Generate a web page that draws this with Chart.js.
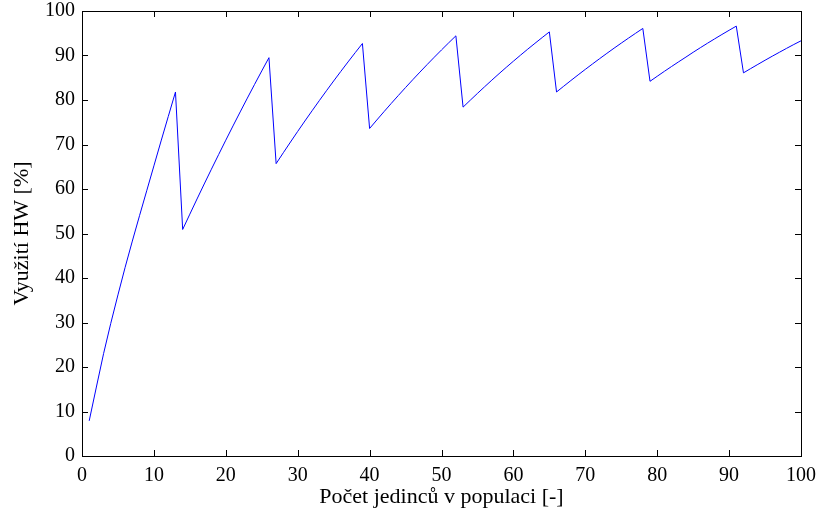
<!DOCTYPE html>
<html>
<head>
<meta charset="utf-8">
<script src="https://cdn.jsdelivr.net/npm/chart.js@4.4.0/dist/chart.umd.min.js"></script>
<style>
  html, body { margin: 0; padding: 0; background: #fff; }
  #wrap { width: 819px; height: 515px; }
</style>
</head>
<body>
<div id="wrap"><canvas id="chartHW" width="819" height="515"></canvas></div>
<script>
// pocet jedincu 1..100
const jedinci = [];
for (let i = 1; i <= 100; i++) jedinci.push(i);

// vyuziti HW [%]
const vyuziti = [
    7.9, 15.5, 23.0, 29.8, 36.2, 42.4, 48.3, 54.0, 59.6, 65.2, 70.8, 76.3, 81.8,
    50.9, 54.35, 57.76, 61.13, 64.45, 67.73, 70.97, 74.17, 77.32, 80.43, 83.5, 86.53, 89.51,
    65.7, 68.15, 70.56, 72.94, 75.28, 77.58, 79.85, 82.08, 84.27, 86.43, 88.55, 90.64, 92.69,
    73.6, 75.5, 77.37, 79.21, 81.02, 82.8, 84.55, 86.27, 87.96, 89.62, 91.25, 92.85, 94.42,
    78.4, 79.95, 81.48, 82.98, 84.46, 85.91, 87.33, 88.72, 90.09, 91.43, 92.74, 94.03, 95.3,
    81.8, 83.1, 84.38, 85.64, 86.88, 88.1, 89.3, 90.48, 91.64, 92.78, 93.9, 95.0, 96.08,
    84.2, 85.33, 86.44, 87.53, 88.6, 89.65, 90.72, 91.75, 92.76, 93.75, 94.72, 95.67, 96.6,
    86.1, 87.06, 88.0, 88.93, 89.84, 90.73, 91.61, 92.47, 93.3
];

const ticksX = [0, 10, 20, 30, 40, 50, 60, 70, 80, 90, 100];
const ticksY = [0, 10, 20, 30, 40, 50, 60, 70, 80, 90, 100];

const fontSerif = '"Liberation Serif", "Times New Roman", serif';

// ramecek a ticky dovnitr (styl MATLAB)
const ramecek = {
    id: 'ramecek',
    afterDraw(chart) {
        const { ctx, chartArea: a, scales } = chart;
        const len = 6;
        ctx.save();
        ctx.strokeStyle = '#000';
        ctx.lineWidth = 1;
        ctx.beginPath();
        ticksX.forEach(v => {
            const px = Math.round(scales.x.getPixelForValue(v)) + 0.5;
            ctx.moveTo(px, a.bottom); ctx.lineTo(px, a.bottom - len);
            ctx.moveTo(px, a.top); ctx.lineTo(px, a.top + len);
        });
        ticksY.forEach(v => {
            const py = Math.round(scales.y.getPixelForValue(v)) + 0.5;
            ctx.moveTo(a.left, py); ctx.lineTo(a.left + len, py);
            ctx.moveTo(a.right, py); ctx.lineTo(a.right - len, py);
        });
        ctx.stroke();
        ctx.strokeRect(Math.round(a.left) + 0.5, Math.round(a.top) + 0.5,
            Math.round(a.right - a.left), Math.round(a.bottom - a.top));
        ctx.restore();
    }
};

const data = {
    datasets: [{
        label: 'Využití HW',
        data: jedinci.map((n, i) => ({ x: n, y: vyuziti[i] })),
        borderColor: '#0000ff',
        borderWidth: 1,
        pointRadius: 0,
        tension: 0,
        fill: false
    }]
};

const configChart = {
    type: 'line',
    data: data,
    options: {
        responsive: false,
        animation: false,
        layout: { padding: { top: 11, right: 18, left: 0, bottom: 0 } },
        plugins: {
            legend: { display: false },
            tooltip: { enabled: false }
        },
        scales: {
            x: {
                type: 'linear',
                min: 0,
                max: 100,
                afterBuildTicks: s => { s.ticks = ticksX.map(v => ({ value: v })); },
                afterFit: s => { s.height = 59; s.paddingLeft = 0; s.paddingRight = 0; },
                grid: { display: false, drawTicks: false },
                border: { display: false },
                ticks: { color: '#000', padding: 8, maxRotation: 0, font: { family: fontSerif, size: 20 } },
                title: {
                    display: true,
                    text: 'Počet jedinců v populaci [-]',
                    color: '#000',
                    padding: { top: 0, bottom: 5 },
                    font: { family: fontSerif, size: 22 }
                }
            },
            y: {
                type: 'linear',
                min: 0,
                max: 100,
                afterBuildTicks: s => { s.ticks = ticksY.map(v => ({ value: v })); },
                afterFit: s => { s.width = 82; s.paddingTop = 0; s.paddingBottom = 0; },
                grid: { display: false, drawTicks: false },
                border: { display: false },
                ticks: { color: '#000', padding: 7, font: { family: fontSerif, size: 20 } },
                title: {
                    display: true,
                    text: 'Využití HW [%]',
                    color: '#000',
                    padding: { top: 9, bottom: 0 },
                    font: { family: fontSerif, size: 22 }
                }
            }
        }
    },
    plugins: [ramecek]
};

const canvas = document.getElementById('chartHW');
window.grafico = new Chart(canvas.getContext('2d'), configChart);
</script>
</body>
</html>
